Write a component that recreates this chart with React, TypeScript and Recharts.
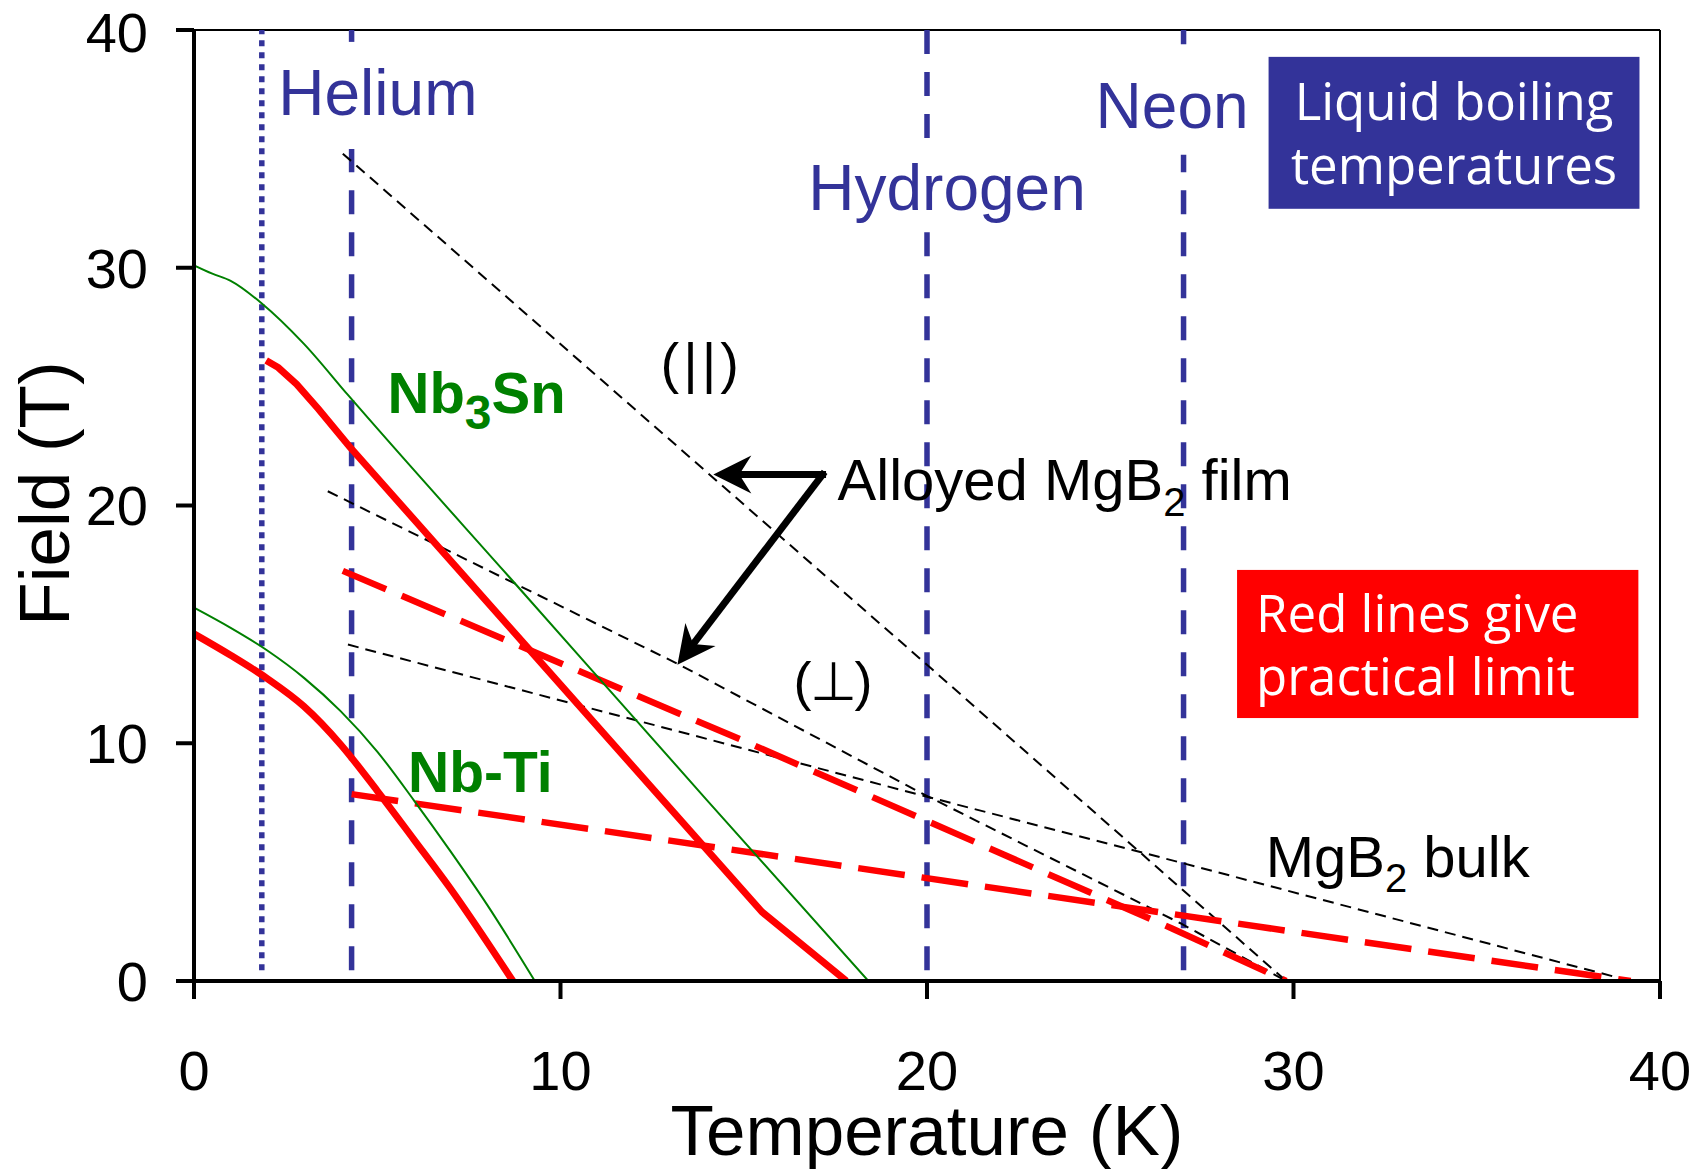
import React from 'react';
import {
  LineChart,
  Line,
  XAxis,
  YAxis,
  ReferenceLine,
  ReferenceArea,
  ReferenceDot,
  Label,
} from 'recharts';

// upper critical fields, temperature (K) -> field (T)
const nb3snHc2 = [
  { t: 0, b: 30.1 }, { t: 0.5, b: 29.75 }, { t: 1.0, b: 29.45 }, { t: 1.85, b: 28.5 },
  { t: 3.0, b: 26.8 }, { t: 4.2, b: 24.65 }, { t: 9, b: 16.3 }, { t: 14, b: 7.6 }, { t: 18.4, b: 0 },
];
const nbtiHc2 = [
  { t: 0, b: 15.7 }, { t: 1, b: 14.85 }, { t: 2, b: 13.9 }, { t: 3, b: 12.75 }, { t: 4, b: 11.35 },
  { t: 5, b: 9.65 }, { t: 6, b: 7.6 }, { t: 7, b: 5.45 }, { t: 8, b: 3.2 }, { t: 9.3, b: 0 },
];
// practical limits (red)
const nb3snLimit = [
  { t: 1.97, b: 26.1 }, { t: 2.3, b: 25.8 }, { t: 2.8, b: 25.1 }, { t: 3.4, b: 24.05 },
  { t: 4.24, b: 22.48 }, { t: 9.0, b: 14.2 }, { t: 15.5, b: 2.9 }, { t: 17.8, b: 0 },
];
const nbtiLimit = [
  { t: 0, b: 14.6 }, { t: 1, b: 13.7 }, { t: 2, b: 12.72 }, { t: 3, b: 11.55 }, { t: 4, b: 9.95 },
  { t: 5, b: 8.0 }, { t: 6, b: 5.95 }, { t: 7, b: 3.88 }, { t: 8.7, b: 0 },
];
const filmPerpLimit = [
  { t: 4.06, b: 17.25 }, { t: 15, b: 10.1 }, { t: 19.9, b: 6.8 }, { t: 26.7, b: 2.2 }, { t: 29.8, b: 0 },
];
const bulkLimit = [{ t: 4.3, b: 7.86 }, { t: 39.2, b: 0 }];
// MgB2 Hc2 (thin black dashed)
const filmParallelHc2 = [{ t: 4.06, b: 34.8 }, { t: 20, b: 13.3 }, { t: 29.8, b: 0 }];
const filmPerpHc2 = [
  { t: 3.65, b: 20.6 }, { t: 13.25, b: 13.3 }, { t: 19.85, b: 7.9 }, { t: 26.9, b: 2.44 }, { t: 29.8, b: 0 },
];
const bulkHc2 = [{ t: 4.2, b: 14.15 }, { t: 20, b: 7.75 }, { t: 27, b: 4.95 }, { t: 39.2, b: 0 }];

// liquid boiling temperatures
const coolantNames = ['Helium', 'Hydrogen', 'Neon'];
const coolantTemps = [4.3, 20, 27];
const superfluidTemp = 1.85;

const ticks = [0, 10, 20, 30, 40];

// layout: field range left blank behind each coolant label, and label anchors (T, B)
const coolantGaps = [[35.0, 39.5], [31.5, 35.0], [34.75, 39.4]];
const coolantLabelAt = [[2.3, 36.43], [16.76, 32.44], [24.6, 35.89]];

const BLUE = '#333399';
const RED = '#ff0000';
const GREEN = '#008000';
const ARIAL = '"Liberation Sans", Arial, Helvetica, sans-serif';
const BOXFONT = '"Open Sans", "DejaVu Sans", sans-serif';

function arrowShape(p: any) {
  const { x1, y1, x2, y2 } = p;
  const dx = x2 - x1;
  const dy = y2 - y1;
  const len = Math.hypot(dx, dy) || 1;
  const ux = dx / len;
  const uy = dy / len;
  const nx = -uy;
  const ny = ux;
  const back = 38, half = 19, notch = 26;
  const bx = x2 - ux * back;
  const by = y2 - uy * back;
  const pts = [
    [x2, y2],
    [bx + nx * half, by + ny * half],
    [x2 - ux * notch, y2 - uy * notch],
    [bx - nx * half, by - ny * half],
  ];
  return (
    <g>
      <line x1={x1} y1={y1} x2={x2 - ux * notch} y2={y2 - uy * notch} stroke="#000" strokeWidth={7} strokeLinecap="square" />
      <polygon points={pts.map((q) => q.join(',')).join(' ')} fill="#000" />
    </g>
  );
}

const textAt = (content: (x: number, y: number) => React.ReactElement) => (p: any) => content(p.cx, p.cy);

const blackText = { fontFamily: ARIAL, fontSize: 58, fill: '#000' };

export default function App() {
  return (
    <div style={{ position: 'absolute', left: 0, top: 0, width: 1694, height: 1169, background: '#fff' }}>
      <LineChart width={1694} height={1169} margin={{ top: 30, right: 34, bottom: 0, left: 0 }}>
        <XAxis
          type="number"
          dataKey="t"
          domain={[0, 40]}
          ticks={ticks}
          allowDataOverflow
          height={188}
          tickSize={18}
          tickMargin={51}
          axisLine={{ stroke: '#000', strokeWidth: 4 }}
          tickLine={{ stroke: '#000', strokeWidth: 4 }}
          tick={{ fontSize: 56, fontFamily: ARIAL, fill: '#000' }}
        >
          <Label
            content={(p: any) => {
              const vb = p.viewBox || { x: 194, y: 981, width: 1466 };
              return (
                <text x={vb.x + vb.width / 2} y={vb.y + 174} textAnchor="middle" fontFamily={ARIAL} fontSize={71} fill="#000">
                  Temperature (K)
                </text>
              );
            }}
          />
        </XAxis>
        <YAxis
          type="number"
          domain={[0, 40]}
          ticks={ticks}
          allowDataOverflow
          width={194}
          tickSize={18}
          tickMargin={28}
          axisLine={{ stroke: '#000', strokeWidth: 4 }}
          tickLine={{ stroke: '#000', strokeWidth: 4 }}
          tick={{ fontSize: 56, fontFamily: ARIAL, fill: '#000' }}
        >
          <Label
            content={(p: any) => {
              const vb = p.viewBox || { x: 0, y: 30, height: 951 };
              const cy = vb.y + vb.height / 2 - 12;
              return (
                <text x={69} y={cy} transform={`rotate(-90, 69, ${cy})`} textAnchor="middle" fontFamily={ARIAL} fontSize={71} fill="#000">
                  Field (T)
                </text>
              );
            }}
          />
        </YAxis>

        {/* frame */}
        <ReferenceLine y={40} stroke="#000" strokeWidth={2} />
        <ReferenceLine x={40} stroke="#000" strokeWidth={2} />

        {/* coolant temperatures */}
        <ReferenceLine
          segment={[{ x: superfluidTemp, y: 0.45 }, { x: superfluidTemp, y: 40 }]}
          stroke={BLUE}
          strokeWidth={5.5}
          strokeDasharray="6 6"
        />
        {coolantTemps.map((t, i) => (
          <ReferenceLine
            key={'lo' + i}
            segment={[{ x: t, y: 0.45 }, { x: t, y: coolantGaps[i][0] }]}
            stroke={BLUE}
            strokeWidth={5.5}
            strokeDasharray="24 18"
          />
        ))}
        {coolantTemps.map((t, i) => (
          <ReferenceLine
            key={'hi' + i}
            segment={[{ x: t, y: 40 }, { x: t, y: coolantGaps[i][1] }]}
            stroke={BLUE}
            strokeWidth={5.5}
            strokeDasharray="24 18"
          />
        ))}
        {coolantNames.map((name, i) => (
          <ReferenceDot
            key={name}
            x={coolantLabelAt[i][0]}
            y={coolantLabelAt[i][1]}
            shape={textAt((x, y) => (
              <text x={x} y={y} fontFamily={ARIAL} fontSize={64} fill={BLUE}>{name}</text>
            ))}
          />
        ))}

        {/* MgB2 upper critical fields */}
        <Line data={filmParallelHc2} dataKey="b" type="linear" stroke="#000" strokeWidth={2} strokeDasharray="11 7" dot={false} activeDot={false} isAnimationActive={false} />
        <Line data={filmPerpHc2} dataKey="b" type="linear" stroke="#000" strokeWidth={2} strokeDasharray="11 7" dot={false} activeDot={false} isAnimationActive={false} />
        <Line data={bulkHc2} dataKey="b" type="linear" stroke="#000" strokeWidth={2} strokeDasharray="11 7" dot={false} activeDot={false} isAnimationActive={false} />

        {/* practical limits */}
        <Line data={filmPerpLimit} dataKey="b" type="linear" stroke={RED} strokeWidth={6.5} strokeDasharray="47 17" dot={false} activeDot={false} isAnimationActive={false} />
        <Line data={bulkLimit} dataKey="b" type="linear" stroke={RED} strokeWidth={6.5} strokeDasharray="47 17" dot={false} activeDot={false} isAnimationActive={false} />
        <Line data={nb3snLimit} dataKey="b" type="linear" stroke={RED} strokeWidth={7} dot={false} activeDot={false} isAnimationActive={false} />
        <Line data={nbtiLimit} dataKey="b" type="monotone" stroke={RED} strokeWidth={7} dot={false} activeDot={false} isAnimationActive={false} />

        {/* Hc2 of conventional conductors */}
        <Line data={nb3snHc2} dataKey="b" type="monotone" stroke={GREEN} strokeWidth={2} dot={false} activeDot={false} isAnimationActive={false} />
        <Line data={nbtiHc2} dataKey="b" type="monotone" stroke={GREEN} strokeWidth={2} dot={false} activeDot={false} isAnimationActive={false} />

        {/* annotations */}
        <ReferenceLine segment={[{ x: 17.15, y: 21.3 }, { x: 14.17, y: 21.3 }]} shape={arrowShape} />
        <ReferenceLine segment={[{ x: 17.15, y: 21.3 }, { x: 13.19, y: 13.3 }]} shape={arrowShape} />

        <ReferenceDot
          x={17.56}
          y={20.24}
          shape={textAt((x, y) => (
            <text x={x} y={y} {...blackText}>
              Alloyed MgB<tspan fontSize={40} dy={16}>2</tspan><tspan dy={-16}> film</tspan>
            </text>
          ))}
        />
        <ReferenceDot
          x={29.24}
          y={4.39}
          shape={textAt((x, y) => (
            <text x={x} y={y} {...blackText}>
              MgB<tspan fontSize={40} dy={15}>2</tspan><tspan dy={-15}> bulk</tspan>
            </text>
          ))}
        />
        <ReferenceDot
          x={12.73}
          y={25.2}
          shape={textAt((x, y) => (
            <text x={x} y={y} fontFamily={ARIAL} fontSize={56} letterSpacing={4} fill="#000">(||)</text>
          ))}
        />
        <ReferenceDot
          x={16.36}
          y={11.82}
          shape={textAt((x, y) => (
            <text x={x} y={y} fontFamily={ARIAL} fontSize={54} letterSpacing={-2} fill="#000">(⊥)</text>
          ))}
        />
        <ReferenceDot
          x={5.28}
          y={23.91}
          shape={textAt((x, y) => (
            <text x={x} y={y} fontFamily={ARIAL} fontSize={58} fontWeight="bold" fill={GREEN}>
              Nb<tspan fontSize={48} dy={16}>3</tspan><tspan dy={-16}>Sn</tspan>
            </text>
          ))}
        />
        <ReferenceDot
          x={5.84}
          y={7.96}
          shape={textAt((x, y) => (
            <text x={x} y={y} fontFamily={ARIAL} fontSize={57} fontWeight="bold" fill={GREEN}>Nb-Ti</text>
          ))}
        />

        {/* boxed notes */}
        <ReferenceArea
          x1={29.32}
          x2={39.44}
          y1={32.48}
          y2={38.87}
          shape={(p: any) => (
            <g>
              <rect x={p.x} y={p.y} width={p.width} height={p.height} fill={BLUE} />
              <text x={p.x + p.width / 2} y={p.y + 63} textAnchor="middle" fontFamily={BOXFONT} fontSize={51} fill="#fff">Liquid boiling</text>
              <text x={p.x + p.width / 2} y={p.y + 127} textAnchor="middle" fontFamily={BOXFONT} fontSize={51} fill="#fff">temperatures</text>
            </g>
          )}
        />
        <ReferenceArea
          x1={28.46}
          x2={39.41}
          y1={11.06}
          y2={17.29}
          shape={(p: any) => (
            <g>
              <rect x={p.x} y={p.y} width={p.width} height={p.height} fill={RED} />
              <text x={p.x + 19} y={p.y + 62} fontFamily={BOXFONT} fontSize={51} fill="#fff">Red lines give</text>
              <text x={p.x + 19} y={p.y + 125} fontFamily={BOXFONT} fontSize={51} fill="#fff">practical limit</text>
            </g>
          )}
        />
      </LineChart>
    </div>
  );
}
